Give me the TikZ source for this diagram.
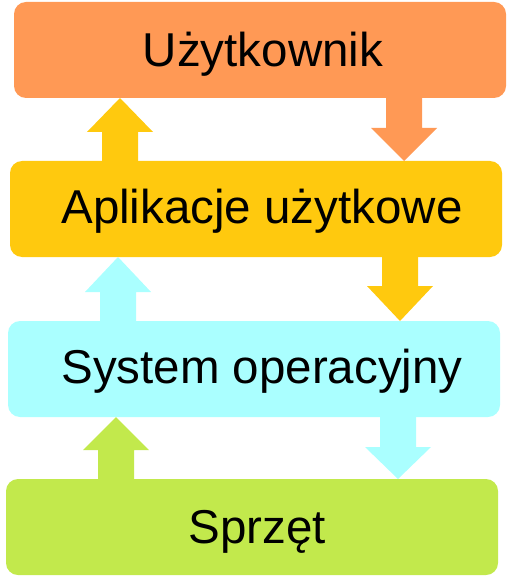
\documentclass[tikz,border=0pt]{standalone}
\usepackage{fontspec}
\setmainfont{Liberation Sans}
\definecolor{cA}{HTML}{FF9955}
\definecolor{cB}{HTML}{FFC90E}
\definecolor{cC}{HTML}{AAFFFF}
\definecolor{cD}{HTML}{C2E94C}
\tikzset{
  layerbox/.style={rectangle, rounded corners=12pt, minimum width=492pt, minimum height=96pt, inner sep=0pt, draw=none},
  layertext/.style={anchor=base, inner sep=0pt, font=\fontsize{47.5}{57}\selectfont, text=black},
}
\newcommand{\uparrowblk}[6]{% color, xcenter, ytip, yheadbase, ybottom
  \fill[#1] (#2-18,#5) -- (#2-18,#4) -- (#2-33,#4) -- (#2,#3) -- (#2+33,#4) -- (#2+18,#4) -- (#2+18,#5) -- cycle;}
\newcommand{\downarrowblk}[6]{% color, xcenter, ytop, yheadbase, ytip
  \fill[#1] (#2-18,#3) -- (#2-18,#4) -- (#2-33,#4) -- (#2,#5) -- (#2+33,#4) -- (#2+18,#4) -- (#2+18,#3) -- cycle;}
\begin{document}
\begin{tikzpicture}[x=1pt,y=-1pt]
\useasboundingbox (0,0) rectangle (510,580);
\node[layerbox, fill=cA] (b1) at (260,50) {};
\node[layerbox, fill=cB] (b2) at (256,209) {};
\node[layerbox, fill=cC] (b3) at (254,369) {};
\node[layerbox, fill=cD] (b4) at (252,527) {};
\node[layertext] (t1) at (263,67) {Użytkownik};
\node[layertext] (t2) at (262,223) {Aplikacje użytkowe};
\node[layertext] (t3) at (262,383) {System operacyjny};
\node[layertext] (t4) at (257,543) {Sprzęt};
% arrows between layers
\uparrowblk{cB}{120}{98}{132}{162}{}
\downarrowblk{cA}{404}{97}{128}{161}{}
\uparrowblk{cC}{118}{257}{292}{322}{}
\downarrowblk{cB}{400}{256}{286}{321}{}
\uparrowblk{cD}{116}{417}{450}{480}{}
\downarrowblk{cC}{398}{416}{447}{479}{}
\end{tikzpicture}
\end{document}
